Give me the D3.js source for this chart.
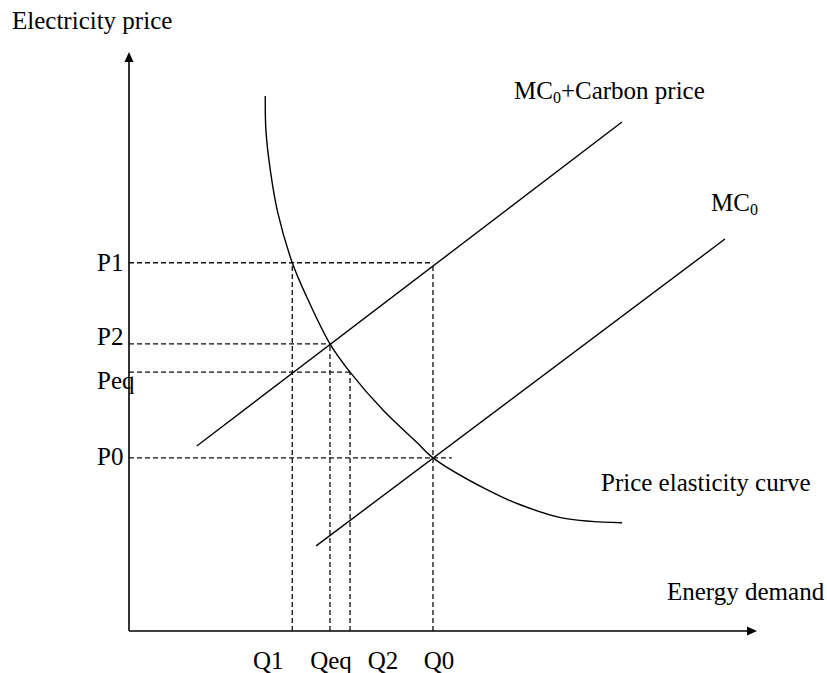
<!DOCTYPE html>
<html>
<head>
<meta charset="utf-8">
<script src="https://cdn.jsdelivr.net/npm/d3@7"></script>
<style>
  html, body { margin: 0; padding: 0; background: #fff; }
  svg { display: block; }
  text { font-family: "Liberation Serif", "Times New Roman", serif; fill: #000; }
</style>
</head>
<body>
<svg id="chart" width="827" height="673"></svg>
<script>
// Price levels marked on the vertical axis
const priceLabels = ["P1", "P2", "Peq", "P0"];
const priceValues = [63.6, 49.6, 44.7, 29.9];
// How far each horizontal guide runs to the right (quantity units)
const priceGuideEnds = [48.4, 32.0, 35.2, 51.4];

// Quantities marked on the horizontal axis
const quantityLabels = ["Q1", "Qeq", "Q2", "Q0"];
const quantityValues = [26.0, 32.0, 35.2, 48.4];
// How high each vertical guide rises (price units)
const quantityGuideTops = [63.6, 49.6, 44.7, 63.6];

// Demand (price elasticity) curve
const demandQ = [21.7, 21.8, 22.5, 23.7, 26.0, 28.3, 32.0, 35.2, 40.4, 45.9, 48.4, 57.0, 62.3, 69.1, 78.5];
const demandP = [92.4, 86.5, 79.6, 72.2, 63.6, 57.7, 49.6, 44.7, 38.2, 32.5, 29.9, 24.4, 21.8, 19.5, 18.7];

// Marginal cost with carbon price, and base marginal cost
const mcCarbonQ = [10.8, 78.5];
const mcCarbonP = [31.95, 87.9];
const mc0Q = [29.8, 94.9];
const mc0P = [14.7, 67.7];

const svg = d3.select("#chart");
const x = d3.scaleLinear().domain([0, 100]).range([129, 757]);
const y = d3.scaleLinear().domain([0, 100]).range([631, 52]);

const line = d3.line().x(d => x(d[0])).y(d => y(d[1]));
const curve = d3.line().x(d => x(d[0])).y(d => y(d[1])).curve(d3.curveCatmullRom.alpha(0.5));

// Dashed guides
const guides = svg.append("g")
  .attr("fill", "none")
  .attr("stroke", "#111")
  .attr("stroke-width", 1.3)
  .attr("stroke-dasharray", "5,3");

priceValues.forEach((p, i) => {
  guides.append("path").attr("d", line([[0, p], [priceGuideEnds[i], p]]));
});
quantityValues.forEach((q, i) => {
  guides.append("path").attr("d", line([[q, 0], [q, quantityGuideTops[i]]]));
});

// Supply and demand curves
const curves = svg.append("g").attr("fill", "none").attr("stroke", "#000").attr("stroke-width", 1.4);
curves.append("path").attr("d", line(mcCarbonQ.map((q, i) => [q, mcCarbonP[i]])));
curves.append("path").attr("d", line(mc0Q.map((q, i) => [q, mc0P[i]])));
curves.append("path").attr("d", curve(demandQ.map((q, i) => [q, demandP[i]])));

// Axes with arrow heads
const axes = svg.append("g");
axes.append("path")
  .attr("d", line([[0, 0], [0, 98.5]]))
  .attr("stroke", "#000").attr("stroke-width", 1.6).attr("fill", "none");
axes.append("path")
  .attr("d", line([[0, 0], [99, 0]]))
  .attr("stroke", "#000").attr("stroke-width", 1.6).attr("fill", "none");

const yTipX = x(0), yTipY = y(100);
axes.append("path")
  .attr("d", `M${yTipX},${yTipY} L${yTipX - 4.5},${yTipY + 10} L${yTipX + 4.5},${yTipY + 10} Z`)
  .attr("fill", "#000");
const xTipX = x(100), xTipY = y(0);
axes.append("path")
  .attr("d", `M${xTipX},${xTipY} L${xTipX - 10},${xTipY - 4.5} L${xTipX - 10},${xTipY + 4.5} Z`)
  .attr("fill", "#000");

// Axis level labels
const fontSize = 25;
const priceLabelDy = [8, 1, 17, 7];
priceLabels.forEach((lab, i) => {
  svg.append("text")
    .attr("x", 97)
    .attr("y", y(priceValues[i]) + priceLabelDy[i])
    .attr("font-size", fontSize)
    .text(lab);
});
const quantityLabelDx = [-24, 1, 33, 6];
quantityLabels.forEach((lab, i) => {
  svg.append("text")
    .attr("x", x(quantityValues[i]) + quantityLabelDx[i])
    .attr("y", 669)
    .attr("text-anchor", "middle")
    .attr("font-size", fontSize)
    .text(lab);
});

// Axis titles
svg.append("text").attr("x", 12).attr("y", 29).attr("font-size", fontSize).text("Electricity price");
svg.append("text").attr("x", 667).attr("y", 600).attr("font-size", fontSize).text("Energy demand");

// Curve labels
const mcc = svg.append("text").attr("x", 514).attr("y", 99).attr("font-size", fontSize);
mcc.append("tspan").text("MC");
mcc.append("tspan").attr("font-size", 16).attr("dy", 4).text("0");
mcc.append("tspan").attr("dy", -4).text("+Carbon price");

const mc0 = svg.append("text").attr("x", 711).attr("y", 211).attr("font-size", fontSize);
mc0.append("tspan").text("MC");
mc0.append("tspan").attr("font-size", 16).attr("dy", 4).text("0");

svg.append("text").attr("x", 601).attr("y", 491).attr("font-size", fontSize).text("Price elasticity curve");
</script>
</body>
</html>
